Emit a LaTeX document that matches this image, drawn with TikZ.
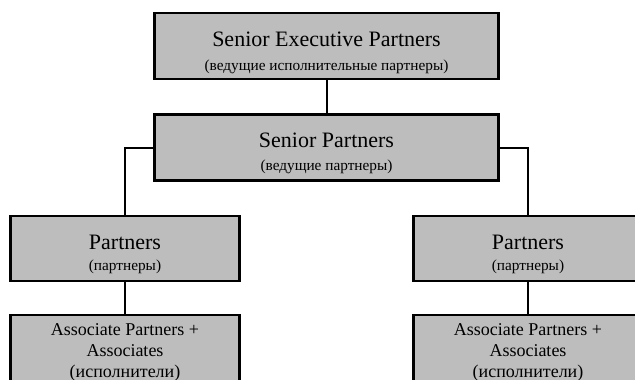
\documentclass[tikz,border=0pt]{standalone}
\usepackage{fontspec}
\setmainfont{Liberation Serif}
\definecolor{boxgray}{RGB}{189,189,189}
\tikzstyle{rank} = [draw=black, fill=boxgray, line width=2.6pt, align=center, inner sep=0pt, text depth=0pt]
\tikzstyle{top} = [rank, minimum width=344pt, minimum height=66pt]
\tikzstyle{side} = [rank, minimum width=229pt, minimum height=65pt]
\tikzstyle{link} = [line width=2pt]
\newcommand{\eng}{\fontsize{22}{26}\selectfont}
\newcommand{\rus}{\fontsize{15.3}{20}\selectfont}

\begin{document}
\begin{tikzpicture}[x=1pt,y=-1pt]
        \useasboundingbox (0,0) rectangle (635,380);
        \clip (0,0) rectangle (635,380);
        \node[top,font=\fontsize{16}{24}\selectfont,text height=49pt](sep) at (326.5,46){{\eng Senior Executive Partners}\\{\rus (ведущие исполнительные партнеры)}};
        \node[top,font=\fontsize{16}{23}\selectfont,text height=45pt](sp) at (326.5,147.5){{\eng Senior Partners}\\{\rus (ведущие партнеры)}};
        \node[side,font=\fontsize{16}{21}\selectfont,text height=43pt](pl) at (125,248.5){{\eng Partners}\\{\rus (партнеры)}};
        \node[side,font=\fontsize{16}{21}\selectfont,text height=43pt](pr) at (528,248.5){{\eng Partners}\\{\rus (партнеры)}};
        \node[side,font=\fontsize{18}{21}\selectfont,text height=50pt,minimum height=74pt](al) at (125,352){Associate Partners +\\Associates\\(исполнители)};
        \node[side,font=\fontsize{18}{21}\selectfont,text height=50pt,minimum height=74pt](ar) at (528,352){Associate Partners +\\Associates\\(исполнители)};
        \draw[link](sep)--(sp);
        \draw[link](sp.west)-|(pl);
        \draw[link](sp.east)-|(pr);
        \draw[link](pl)--(al);
        \draw[link](pr)--(ar);
      \end{tikzpicture}
\end{document}
